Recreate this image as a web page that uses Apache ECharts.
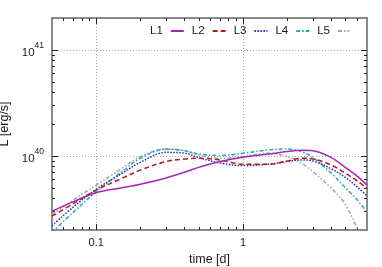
<!DOCTYPE html>
<html><head><meta charset="utf-8">
<script src="https://cdn.jsdelivr.net/npm/echarts@6/dist/echarts.min.js"></script>
<style>html,body{margin:0;padding:0;background:#fff}#c{width:382px;height:267px}</style>
</head><body><div id="c"></div>
<script>
// time [d]
const times = [0.05, 0.07, 0.1, 0.15, 0.2, 0.3, 0.4, 0.5, 0.7, 1, 1.5, 2, 2.5, 3, 4, 5, 6, 7];
// luminosities in units of 1e40 erg/s
const L1 = [0.30, 0.37, 0.45, 0.50, 0.54, 0.62, 0.70, 0.78, 0.885, 0.97, 1.04, 1.10, 1.13, 1.12, 0.965, 0.775, 0.645, 0.53];
const L2 = [0.27, 0.355, 0.475, 0.615, 0.735, 0.885, 0.935, 0.95, 0.915, 0.835, 0.835, 0.895, 0.95, 0.935, 0.82, 0.685, 0.58, 0.495];
const L3 = [0.22, 0.33, 0.485, 0.685, 0.87, 1.08, 1.06, 0.965, 0.855, 0.81, 0.835, 0.885, 0.915, 0.895, 0.755, 0.625, 0.51, 0.42];
const L4 = [0.19, 0.295, 0.46, 0.71, 0.95, 1.16, 1.12, 1.04, 1.01, 1.06, 1.14, 1.16, 1.10, 0.965, 0.685, 0.50, 0.385, 0.295];
const L5 = [0.28, 0.385, 0.53, 0.765, 0.985, 1.16, 1.12, 1.02, 0.95, 0.99, 1.06, 0.985, 0.855, 0.71, 0.495, 0.345, 0.21, 0.15];
const seriesNames = ['L1', 'L2', 'L3', 'L4', 'L5'];
const xMajorTicks = [0.1, 1];
const xMinorTicks = [0.06, 0.07, 0.08, 0.09, 0.2, 0.3, 0.4, 0.5, 0.6, 0.7, 0.8, 0.9, 2, 3, 4, 5, 6];
const yMajorTicks = [1e40, 1e41];
const yMinorTicks = [3e39, 4e39, 5e39, 6e39, 7e39, 8e39, 9e39, 2e40, 3e40, 4e40, 5e40, 6e40, 7e40, 8e40, 9e40];
const unit = 1e40;

const FONT = 'Liberation Sans';
const TXT = '#1a1a1a';
const X_MIN = 0.05, X_MAX = 7, Y_MIN = 2e39, Y_MAX = 2e41;

const colors = ['#a626b3', '#b01c1c', '#2323cc', '#1fa9b3', '#a3a3a3'];
const dashes = ['solid', [5, 3], [1.5, 1.5], [4, 2, 1.5, 2], [4, 2, 1.5, 2, 1.5, 2]];
const allData = [L1, L2, L3, L4, L5];

function xAx(pos, ticks, len, main) {
  return {
    type: 'log', logBase: 10, min: X_MIN, max: X_MAX, position: pos,
    axisLine: { show: main, lineStyle: { color: '#666', width: 1.5 } },
    axisTick: { show: true, inside: true, length: len, customValues: ticks, lineStyle: { color: '#222', width: 1 } },
    axisLabel: main && pos === 'bottom' ? { show: true, customValues: xMajorTicks, margin: 7, color: TXT, fontFamily: FONT, fontSize: 11, formatter: v => String(v) } : { show: false },
    splitLine: main && pos === 'bottom' ? { show: true, lineStyle: { color: '#aaa', type: [1, 2], width: 1 } } : { show: false },
    minorTick: { show: false }, minorSplitLine: { show: false },
    name: main && pos === 'bottom' ? 'time [d]' : '',
    nameLocation: 'middle', nameGap: 23,
    nameTextStyle: { color: TXT, fontFamily: FONT, fontSize: 12.5 }
  };
}
function yAx(pos, ticks, len, main) {
  return {
    type: 'log', logBase: 10, min: Y_MIN, max: Y_MAX, position: pos,
    axisLine: { show: main, lineStyle: { color: '#666', width: 1.5 } },
    axisTick: { show: true, inside: true, length: len, customValues: ticks, lineStyle: { color: '#222', width: 1 } },
    axisLabel: main && pos === 'left' ? {
      show: true, customValues: yMajorTicks, margin: 8, color: TXT, fontFamily: FONT, fontSize: 11,
      formatter: v => '{b|10}{s|' + Math.round(Math.log10(v)) + '}',
      rich: {
        b: { fontFamily: FONT, fontSize: 11.5, color: TXT, verticalAlign: 'bottom', lineHeight: 14 },
        s: { fontFamily: FONT, fontSize: 8.5, color: TXT, verticalAlign: 'top', lineHeight: 18, padding: [0, 0, 8, 0] }
      }
    } : { show: false },
    splitLine: main && pos === 'left' ? { show: true, lineStyle: { color: '#aaa', type: [1, 2], width: 1 } } : { show: false },
    minorTick: { show: false }, minorSplitLine: { show: false },
    name: main && pos === 'left' ? 'L [erg/s]' : '',
    nameLocation: 'middle', nameGap: 36, nameRotate: 90,
    nameTextStyle: { color: TXT, fontFamily: FONT, fontSize: 12.5 }
  };
}

const series = seriesNames.map((n, i) => ({
  name: n, type: 'line', xAxisIndex: 0, yAxisIndex: 0,
  data: times.map((t, k) => [t, allData[i][k] * unit]),
  smooth: 0.35, symbol: 'none', clip: true,
  lineStyle: { color: colors[i], width: 1.5, type: dashes[i] },
  itemStyle: { color: colors[i] },
  z: 10 - i
}));

const chart = echarts.init(document.getElementById('c'), null, { renderer: 'canvas' });
chart.setOption({
  animation: false,
  backgroundColor: '#fff',
  grid: { left: 52, right: 15, top: 18, bottom: 37, containLabel: false, outerBoundsMode: 'none' },
  legend: {
    data: seriesNames, right: 30, top: 25, padding: 0, align: 'right', orient: 'horizontal',
    itemWidth: 13, itemHeight: 12, itemGap: 7,
    itemStyle: { opacity: 0 },
    textStyle: { color: TXT, fontFamily: FONT, fontSize: 11.5, padding: [0, 3, 0, 0] }
  },
  xAxis: [
    xAx('bottom', xMajorTicks, 6, true),
    xAx('bottom', xMinorTicks, 3, false),
    xAx('top', xMajorTicks, 6, true),
    xAx('top', xMinorTicks, 3, false)
  ],
  yAxis: [
    yAx('left', yMajorTicks, 6, true),
    yAx('left', yMinorTicks, 3, false),
    yAx('right', yMajorTicks, 6, true),
    yAx('right', yMinorTicks, 3, false)
  ],
  series: series
});
</script>
</body></html>
